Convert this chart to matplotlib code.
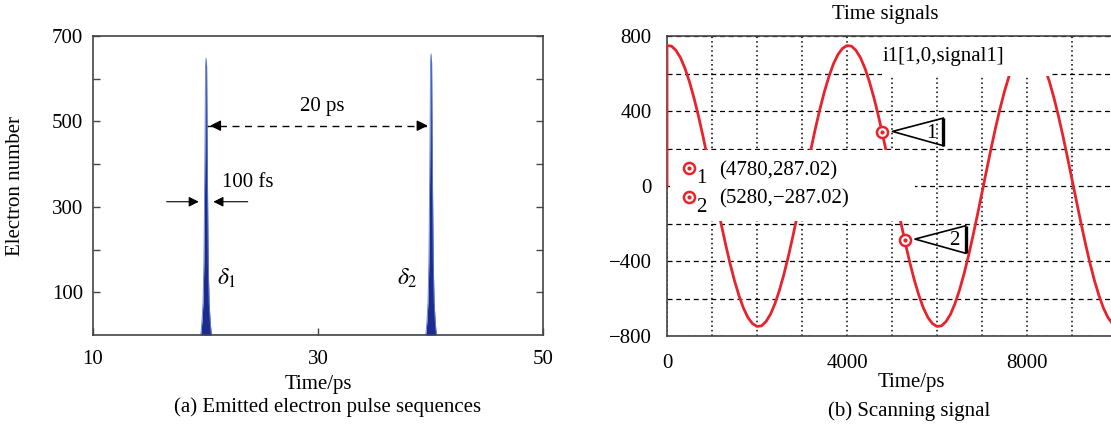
import matplotlib
matplotlib.use("Agg")
import matplotlib.pyplot as plt
from matplotlib.patches import Rectangle

plt.rcParams["font.family"] = ["Liberation Serif", "DejaVu Serif"]
plt.rcParams["mathtext.fontset"] = "stix"
plt.rcParams["font.size"] = 15

# (a) pulses d'électrons émis
pulse_t = [19.58, 19.68, 19.78, 19.86, 19.95, 20.00, 20.05, 20.10, 20.15, 20.24, 20.32, 20.42, 20.52,
           39.58, 39.68, 39.78, 39.86, 39.95, 40.00, 40.05, 40.10, 40.15, 40.24, 40.32, 40.42, 40.52]
pulse_n = [0, 30, 75, 170, 430, 630, 648, 630, 430, 170, 75, 30, 0,
           0, 30, 78, 175, 435, 638, 658, 638, 435, 175, 78, 30, 0]
a_xticks = [10, 20, 30, 40, 50]
a_xlabels = ["10", "", "30", "", "50"]
a_yticks = [100, 200, 300, 400, 500, 600, 700]
a_ylabels = ["100", "", "300", "", "500", "", "700"]

# (b) signal de balayage, lu tous les 100 ps
scan_t = [0] + list(range(0, 10001, 100))
scan_i = [0,
          749, 746, 723, 684, 627, 555, 469, 372, 265, 152,
          35, -82, -198, -309, -412, -505, -585, -652, -702, -734,
          -749, -746, -723, -684, -627, -555, -469, -372, -265, -152,
          -35, 82, 198, 309, 412, 505, 585, 652, 702, 734,
          749, 746, 723, 684, 627, 555, 469, 372, 265, 152,
          35, -82, -198, -309, -412, -505, -585, -652, -702, -734,
          -749, -746, -723, -684, -627, -555, -469, -372, -265, -152,
          -35, 82, 198, 309, 412, 505, 585, 652, 702, 734,
          749, 746, 723, 684, 627, 555, 469, 372, 265, 152,
          35, -82, -198, -309, -412, -505, -585, -652, -702, -734,
          -749]
mark_t = [4780, 5280]
mark_i = [287.02, -287.02]
b_xticks = list(range(0, 10001, 1000))
b_xlabels = ["0", "", "", "", "4000", "", "", "", "8000", "", ""]
b_yticks = list(range(-800, 801, 200))
b_ylabels = ["−800", "", "−400", "", "0", "", "400", "", "800"]

RED = "#e8232b"
NAVY = "#1d2a8e"
LIGHT = "#5c7fd6"
SPINE = "#444444"

W, H = 1111, 429
fig = plt.figure(figsize=(W / 100, H / 100), dpi=100)

# ---------------- (a)
ax = fig.add_axes([93 / W, 1 - 335 / H, 450 / W, 299 / H])
ax.fill_between(pulse_t, pulse_n, color=NAVY, lw=0, zorder=2)
ax.plot(pulse_t, pulse_n, color=LIGHT, lw=0.6, zorder=2.1)
ax.set_xlim(10, 50)
ax.set_ylim(0, 700)
ax.set_xticks(a_xticks, a_xlabels)
ax.set_yticks(a_yticks, a_ylabels)
ax.tick_params(direction="in", length=5, width=1, color=SPINE, top=False, right=True)
ax.tick_params(axis="x", pad=11)
ax.tick_params(axis="y", pad=7)
for s in ax.spines.values():
    s.set_color(SPINE)
    s.set_linewidth(1.2)

# 20 ps
y_arr = 490
ax.plot([pulse_t[8], pulse_t[18]], [y_arr, y_arr], color="k", lw=1, ls=(0, (5, 4)))
ax.annotate("", xy=(pulse_t[8], y_arr), xytext=(pulse_t[8] + 1.0, y_arr),
            arrowprops=dict(arrowstyle="-|>", color="k", lw=1, mutation_scale=16))
ax.annotate("", xy=(pulse_t[18], y_arr), xytext=(pulse_t[18] - 1.0, y_arr),
            arrowprops=dict(arrowstyle="-|>", color="k", lw=1, mutation_scale=16))
ax.text(30.4, 536, "20 ps", ha="center", va="center")

# 100 fs
y_fs = 312
ax.annotate("", xy=(19.65, y_fs), xytext=(16.3, y_fs),
            arrowprops=dict(arrowstyle="-|>", color="k", lw=0.8, mutation_scale=15))
ax.annotate("", xy=(20.45, y_fs), xytext=(24.0, y_fs),
            arrowprops=dict(arrowstyle="-|>", color="k", lw=0.8, mutation_scale=15))
ax.text(23.8, 357, "100 fs", ha="center", va="center")

ax.text(21.9, 133, r"$\delta_1$", ha="center", va="center", fontsize=17)
ax.text(37.9, 133, r"$\delta_2$", ha="center", va="center", fontsize=17)

fig.text(16 / W, 1 - 186 / H, "Electron number", rotation=90, ha="center", va="center")
fig.text(318 / W, 1 - 385 / H, "Time/ps", ha="center", va="center")
fig.text(328 / W, 1 - 407 / H, "(a) Emitted electron pulse sequences", ha="center", va="center")

# ---------------- (b)
bx = fig.add_axes([667 / W, 1 - 336 / H, 450 / W, 300 / H])
bx.set_xlim(0, 10000)
bx.set_ylim(-800, 800)
bx.set_xticks(b_xticks, b_xlabels)
bx.set_yticks(b_yticks, b_ylabels)
bx.tick_params(length=0)
bx.tick_params(axis="x", pad=13)
bx.tick_params(axis="y", pad=11)
bx.xaxis.grid(True, color="k", lw=1.1, ls=(0, (1, 2.0)), zorder=0.5)
bx.yaxis.grid(True, color="k", lw=0.9, ls=(0, (4, 3)), zorder=0.5)
bx.set_axisbelow(True)
for s in bx.spines.values():
    s.set_color(SPINE)
    s.set_linewidth(1.2)

bx.plot(scan_t, scan_i, color=RED, lw=2.0, zorder=3, solid_joinstyle="round")

# zones blanches (légende et étiquette)
bx.add_patch(Rectangle((60, -185), 5440, 375, facecolor="white", edgecolor="none", zorder=3.5))
bx.add_patch(Rectangle((4780, 585), 3700, 211, facecolor="white", edgecolor="none", zorder=3.5))
bx.text(4793, 690, "i1[1,0,signal1]", ha="left", va="center", zorder=5)

def ring(x, y):
    bx.plot([x], [y], marker="o", ms=8, mfc="white", mec=RED, mew=1.8, zorder=5, clip_on=False)
    bx.plot([x], [y], marker="o", ms=2, mfc=RED, mec=RED, zorder=5.1, clip_on=False)

for k, (t, v) in enumerate(zip(mark_t, mark_i)):
    ring(t, v)
    # triangle de repère
    tip = (t + 230, v + 4)
    bxx = t + 1360
    bx.plot([bxx, tip[0], bxx], [v + 75, tip[1], v - 72], color="k", lw=1.2, zorder=5)
    bx.plot([bxx, bxx], [v + 75, v - 72], color="k", lw=2.4, zorder=5, solid_capstyle="butt")
    bx.text(t + 1100, v - 5, str(k + 1), ha="center", va="center", zorder=5)
    # ligne de légende
    ly = [94, -57][k]
    ring(496, ly)
    bx.text(771, ly - 55, str(k + 1), ha="center", va="center", zorder=5)
    lbl = f"({t},{v:.2f})".replace("-", "−")
    bx.text(1162, ly - 12, lbl, ha="left", va="center", zorder=5)

fig.text(885 / W, 1 - 15 / H, "Time signals", ha="center", va="center")
fig.text(911 / W, 1 - 383 / H, "Time/ps", ha="center", va="center")
fig.text(909 / W, 1 - 411 / H, "(b) Scanning signal", ha="center", va="center")

fig.savefig("out.png", dpi=100)
